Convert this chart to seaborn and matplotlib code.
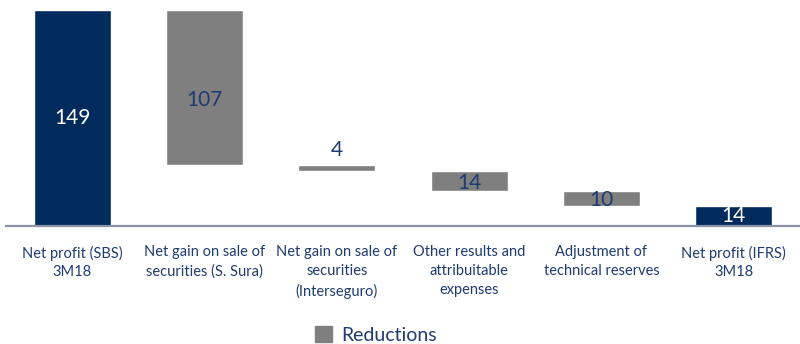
import matplotlib
matplotlib.use('Agg')
import matplotlib.pyplot as plt
from matplotlib.patches import Patch
import seaborn as sns

# Data
labels = ['Net profit (SBS)\n3M18', 'Net gain on sale of\nsecurities (S. Sura)',
          'Net gain on sale of\nsecurities\n(Interseguro)',
          'Other results and\nattribuitable\nexpenses',
          'Adjustment of\ntechnical reserves', 'Net profit (IFRS)\n3M18']
values = [149, 107, 4, 14, 10, 14]
kinds = ['total', 'reduction', 'reduction', 'reduction', 'reduction', 'total']

navy = '#002b5c'
grey = '#7f7f7f'
text_navy = '#1f3b70'

sns.set_style('white')
plt.rcParams['font.family'] = ['Lato', 'DejaVu Sans']

fig = plt.figure(figsize=(8, 3.44), dpi=100)
ax = fig.add_axes([0.0075, 0.343, 0.9925, 0.628])

# running bottoms for the waterfall
bottoms = []
level = 0
for v, k in zip(values, kinds):
    if k == 'total':
        bottoms.append(0)
        level = v
    else:
        level = level - v
        bottoms.append(level)

for i, (lab, v, b, k) in enumerate(zip(labels, values, bottoms, kinds)):
    c = navy if k == 'total' else grey
    sns.barplot(x=[lab], y=[v], bottom=b, order=labels, color=c,
                width=0.58, saturation=1, ax=ax)
    if k == 'total':
        ax.text(i, b + v / 2, str(v), ha='center', va='center',
                color='white', fontsize=15)
    elif v < 8:
        ax.annotate(str(v), (i, b + v), xytext=(0, 4), textcoords='offset points',
                    ha='center', va='bottom', color=text_navy, fontsize=15)
    else:
        ax.text(i, b + v * 0.42, str(v), ha='center', va='center',
                color=text_navy, fontsize=15)

ax.set_xlim(-0.5, 5.5)
ax.set_ylim(0, 149)
ax.set_yticks([])
ax.set_xlabel('')
ax.set_ylabel('')
for s in ['top', 'right', 'left']:
    ax.spines[s].set_visible(False)
ax.spines['bottom'].set_color('#8c93a8')
ax.spines['bottom'].set_linewidth(1.6)
ax.tick_params(axis='x', length=0, pad=14, labelsize=10.5, labelcolor=text_navy)
for t in ax.get_xticklabels():
    t.set_linespacing(1.45)

fig.legend(handles=[Patch(color=grey, label='Reductions')], loc='center',
           bbox_to_anchor=(0.47, 0.026), frameon=False, fontsize=14,
           handlelength=0.85, handleheight=0.85, handletextpad=0.5,
           labelcolor=text_navy)

fig.savefig('out.png', dpi=100)
